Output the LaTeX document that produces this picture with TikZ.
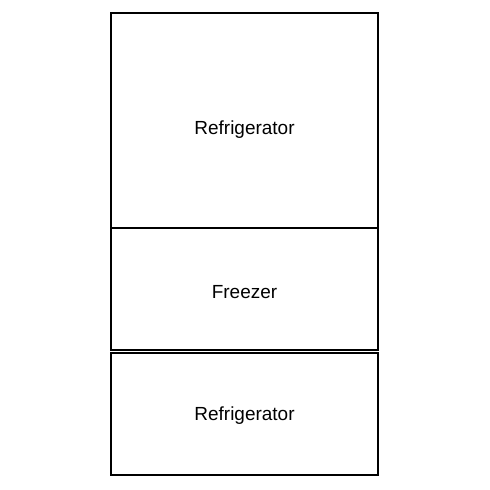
\documentclass[tikz,border=0pt]{standalone}
\usepackage{fontspec}
\setmainfont{Liberation Sans}
\usepackage{tikz}
\usetikzlibrary{positioning,calc}

\begin{document}
\begin{tikzpicture}[x=0.02cm,y=-0.02cm]
% fridge front, measured in pixels of a 490x490 canvas (y grows downwards)
\tikzset{compartment/.style={draw,line width=1.1pt},
  label/.style={font=\fontsize{10.8}{13}\selectfont,text depth=0pt}}
\useasboundingbox (0,0) rectangle (490,490);
% three compartments, one above the other
\draw[compartment] (111,13) rectangle (378,228);
\draw[compartment] (111,228) rectangle (378,350);
\draw[compartment] (111,353) rectangle (378,475);
% names
\node[label] (fridgetop) at (244.5,128) {Refrigerator};
\node[label] (freezer) at (244.5,292) {Freezer};
\node[label] (fridgebottom) at (244.5,414) {Refrigerator};
\end{tikzpicture}
\end{document}
